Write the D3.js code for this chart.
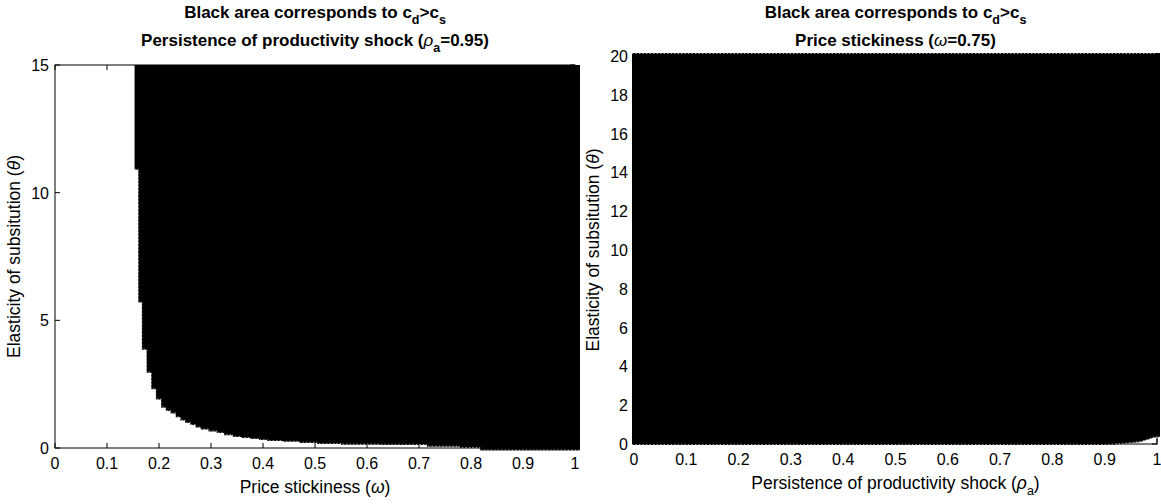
<!DOCTYPE html>
<html>
  <head>
    <script src="https://d3js.org/d3.v7.min.js"></script>
    <style>
      body { margin: 0; background: #fff; }
      text { font-family: "Liberation Sans", Arial, sans-serif; }
    </style>
  </head>
  <body>
    <svg width="1161" height="504"></svg>
    <script>
      // left panel: price stickiness (omega) vs theta, rho_a = 0.95
      var omegaTicks = [0, 0.1, 0.2, 0.3, 0.4, 0.5, 0.6, 0.7, 0.8, 0.9, 1];
      var thetaTicksL = [0, 5, 10, 15];
      // lower edge of black region: column start (omega) and smallest theta with c_d > c_s
      var omegaEdge = [0.153, 0.160, 0.167, 0.176, 0.185, 0.194, 0.204, 0.213, 0.222, 0.232,
                       0.241, 0.250, 0.260, 0.270, 0.280, 0.295, 0.311, 0.325, 0.342, 0.358,
                       0.375, 0.392, 0.408, 0.438, 0.470, 0.504, 0.550, 0.625, 0.715, 0.778, 0.817, 1.0];
      var thetaMinL = [10.9, 5.7, 3.85, 2.95, 2.3, 1.9, 1.58, 1.45, 1.35, 1.2,
                       1.08, 0.98, 0.9, 0.8, 0.72, 0.65, 0.59, 0.5, 0.43, 0.39,
                       0.35, 0.31, 0.27, 0.24, 0.2, 0.16, 0.13, 0.12, 0.05, 0.0, -0.1, -0.1];

      // right panel: persistence (rho_a) vs theta, omega = 0.75
      var rhoTicks = [0, 0.1, 0.2, 0.3, 0.4, 0.5, 0.6, 0.7, 0.8, 0.9, 1];
      var thetaTicksR = [0, 2, 4, 6, 8, 10, 12, 14, 16, 18, 20];
      var rhoEdge = [0, 0.90, 0.93, 0.95, 0.97, 0.98, 0.99, 1.0];
      var thetaMinR = [-0.05, -0.05, 0.0, 0.05, 0.12, 0.2, 0.3, 0.36];

      var svg = d3.select('svg');
      var tickFont = 16, labFont = 17.5, titleFont = 17, subFont = 12.5;

      function drawPanel(o) {
        var x = d3.scaleLinear().domain([0, 1]).range([o.left, o.right]);
        var y = d3.scaleLinear().domain([0, o.ymax]).range([o.bottom, o.top]);
        var g = svg.append('g');

        // box
        g.append('rect')
          .attr('x', o.left).attr('y', o.top)
          .attr('width', o.right - o.left).attr('height', o.bottom - o.top)
          .attr('fill', 'none').attr('stroke', '#000').attr('stroke-width', 1);

        var tl = 5;
        g.selectAll('.xt').data(o.xticks).enter().append('path')
          .attr('d', function(d) {
            return 'M' + x(d) + ',' + o.bottom + 'v' + (-tl) + 'M' + x(d) + ',' + o.top + 'v' + tl;
          })
          .attr('stroke', '#000');
        g.selectAll('.yt').data(o.yticks).enter().append('path')
          .attr('d', function(d) {
            return 'M' + o.left + ',' + y(d) + 'h' + tl + 'M' + o.right + ',' + y(d) + 'h' + (-tl);
          })
          .attr('stroke', '#000');

        // black region
        var pts = o.edgeX.map(function(d, i) { return {w: d, t: o.edgeT[i]}; });
        var px = function(d) { return x(d.w) + (d.w >= 1 ? o.padR : 0) - (d.w <= 0 ? o.padL : 0); };
        var area = d3.area()
          .curve(o.curve)
          .x(px)
          .y0(function(d) { return y(d.t); })
          .y1(y(o.ymax) - o.padT);
        g.append('path').datum(pts).attr('d', area).attr('fill', '#000');
        // dotted marker edges
        g.append('path').datum(pts)
          .attr('d', d3.line().curve(o.curve).x(px).y(function(d) { return y(d.t) - 0.5; }))
          .attr('fill', 'none').attr('stroke', '#fff').attr('stroke-width', 1)
          .attr('stroke-dasharray', '1.5,2').attr('opacity', 0.6);
        if (o.padT > 0) {
          g.append('line')
            .attr('x1', x(o.edgeX[0]) - o.padL).attr('x2', x(1) + o.padR - 4)
            .attr('y1', y(o.ymax) - o.padT + 0.5).attr('y2', y(o.ymax) - o.padT + 0.5)
            .attr('stroke', '#fff').attr('stroke-dasharray', '1.5,2').attr('opacity', 0.6);
        }

        // tick labels
        g.selectAll('.xl').data(o.xticks).enter().append('text')
          .attr('x', function(d) { return x(d); })
          .attr('y', o.bottom + 21)
          .attr('text-anchor', 'middle')
          .attr('font-size', tickFont)
          .text(function(d) { return d; });
        g.selectAll('.yl').data(o.yticks).enter().append('text')
          .attr('x', o.left - 6)
          .attr('y', function(d) { return y(d) + 6; })
          .attr('text-anchor', 'end')
          .attr('font-size', tickFont)
          .text(function(d) { return d; });

        var cx = (o.left + o.right) / 2;
        // titles
        var t1 = g.append('text').attr('x', cx).attr('y', 18)
          .attr('text-anchor', 'middle').attr('font-size', titleFont).attr('font-weight', 'bold');
        t1.append('tspan').text(o.title1);
        t1.append('tspan').text('d').attr('font-size', subFont).attr('dy', 6);
        t1.append('tspan').text('>c').attr('dy', -6);
        t1.append('tspan').text('s').attr('font-size', subFont).attr('dy', 6);

        var t2 = g.append('text').attr('x', cx).attr('y', 46)
          .attr('text-anchor', 'middle').attr('font-size', titleFont).attr('font-weight', 'bold');
        o.title2(t2);

        // axis labels
        var xl = g.append('text').attr('x', cx).attr('y', o.bottom + 45)
          .attr('text-anchor', 'middle').attr('font-size', labFont);
        o.xlabel(xl);

        var yl = g.append('text')
          .attr('transform', 'translate(' + o.ylabX + ',' + ((o.top + o.bottom) / 2) + ') rotate(-90)')
          .attr('text-anchor', 'middle').attr('font-size', labFont);
        yl.append('tspan').text('Elasticity of subsitution (');
        yl.append('tspan').text('\u03B8').attr('font-style', 'italic');
        yl.append('tspan').text(')');
      }

      drawPanel({
        left: 55, right: 575, top: 65, bottom: 448, ymax: 15,
        xticks: omegaTicks, yticks: thetaTicksL,
        edgeX: omegaEdge, edgeT: thetaMinL, curve: d3.curveStepAfter,
        padR: 5, padL: 0, padT: 0,
        title1: 'Black area corresponds to c',
        title2: function(t) {
          t.append('tspan').text('Persistence of productivity shock (');
          t.append('tspan').text('\u03C1').attr('font-style', 'italic').attr('font-weight', 'normal');
          t.append('tspan').text('a').attr('font-size', subFont).attr('dy', 6);
          t.append('tspan').text('=0.95)').attr('dy', -6);
        },
        xlabel: function(t) {
          t.append('tspan').text('Price stickiness (');
          t.append('tspan').text('\u03C9').attr('font-style', 'italic');
          t.append('tspan').text(')');
        },
        ylabX: 20
      });

      drawPanel({
        left: 634, right: 1157, top: 56, bottom: 444, ymax: 20,
        xticks: rhoTicks, yticks: thetaTicksR,
        edgeX: rhoEdge, edgeT: thetaMinR, curve: d3.curveMonotoneX,
        padR: 3, padL: 2, padT: 3,
        title1: 'Black area corresponds to  c',
        title2: function(t) {
          t.append('tspan').text('Price stickiness (');
          t.append('tspan').text('\u03C9').attr('font-style', 'italic').attr('font-weight', 'normal');
          t.append('tspan').text('=0.75)');
        },
        xlabel: function(t) {
          t.append('tspan').text('Persistence of productivity shock (');
          t.append('tspan').text('\u03C1').attr('font-style', 'italic');
          t.append('tspan').text('a').attr('font-size', subFont).attr('dy', 6);
          t.append('tspan').text(')').attr('dy', -6);
        },
        ylabX: 599
      });
    </script>
  </body>
</html>
